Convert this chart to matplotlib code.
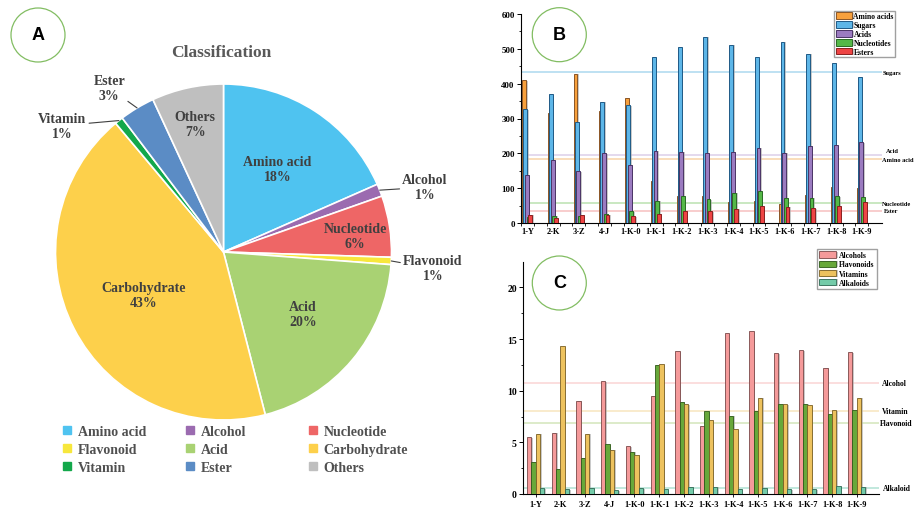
import numpy as np
import matplotlib
matplotlib.use('Agg')
import matplotlib.pyplot as plt
import matplotlib.patheffects as pe
from matplotlib.patches import Ellipse
from matplotlib.lines import Line2D

plt.rcParams['font.family'] = ['Liberation Serif', 'DejaVu Serif']

# panel A
pie_names = ['Amino acid', 'Alcohol', 'Nucleotide', 'Flavonoid', 'Acid',
             'Carbohydrate', 'Vitamin', 'Ester', 'Others']
pie_share = [18.4, 1.2, 5.9, 0.7, 19.8, 42.9, 0.8, 3.4, 6.9]
pie_colors = ['#4fc3f0', '#9b6bb0', '#ee6666', '#f7e73c', '#a9d273',
              '#fdd04b', '#13a84b', '#5b8cc5', '#bfbfbf']

# panel B / C
samples = ['1-Y', '2-K', '3-Z', '4-J', '1-K-0', '1-K-1', '1-K-2', '1-K-3',
           '1-K-4', '1-K-5', '1-K-6', '1-K-7', '1-K-8', '1-K-9']
amino_acids = [410, 316, 428, 322, 360, 120, 77, 77, 60, 62, 55, 80, 102, 100]
sugars = [327, 370, 290, 348, 338, 476, 505, 534, 512, 476, 520, 485, 460, 420]
acids = [138, 180, 148, 200, 167, 208, 205, 200, 205, 216, 202, 222, 223, 232]
nucleotides = [17, 20, 20, 26, 34, 63, 78, 68, 86, 91, 73, 73, 77, 74]
esters = [23, 14, 23, 24, 19, 27, 35, 34, 41, 48, 46, 42, 48, 60]

alcohols = [5.5, 5.9, 9.0, 10.9, 4.6, 9.5, 13.8, 6.55, 15.55, 15.75, 13.6, 13.9, 12.2, 13.7]
flavonoids = [3.1, 2.4, 3.5, 4.8, 4.1, 12.5, 8.9, 8.0, 7.55, 8.05, 8.7, 8.75, 7.7, 8.1]
vitamins = [5.8, 14.3, 5.8, 4.3, 3.8, 12.55, 8.7, 7.15, 6.25, 9.3, 8.7, 8.6, 8.1, 9.3]
alkaloids = [0.55, 0.45, 0.6, 0.35, 0.55, 0.45, 0.72, 0.72, 0.45, 0.55, 0.45, 0.45, 0.75, 0.7]

W, H = 914, 510
fig = plt.figure(figsize=(W / 100, H / 100), dpi=100)


def fx(px):
    return px / W


def fy(py):
    return 1 - py / H


def badge(cx, cy, letter):
    r = 27
    fig.add_artist(Ellipse((fx(cx), fy(cy)), 2 * r / W, 2 * r / H,
                           transform=fig.transFigure, fill=False,
                           ec='#82bd62', lw=0.9))
    fig.text(fx(cx), fy(cy), letter, ha='center', va='center',
             fontsize=13, fontweight='bold', family='Liberation Sans')


shadow = [pe.SimplePatchShadow(offset=(1.1, -0.3), shadow_rgbFace='#a8a8a8', alpha=0.6),
          pe.Normal()]

# ---------------- A: pie
axA = fig.add_axes([fx(53.5), fy(423), 340 / W, 340 / H])
wedges, _ = axA.pie(pie_share, colors=pie_colors, startangle=90, counterclock=False,
                    wedgeprops=dict(edgecolor='white', linewidth=1.2))
axA.set_xlim(-1.012, 1.012)
axA.set_ylim(-1.012, 1.012)

label_r = [0.59, 1.26, 0.79, 1.25, 0.6, 0.54, 1.22, 1.19, 0.78]
label_nudge = [0, -3.8, -1.8, -1.4, 1.8, 0.8, 13.4, 3.9, 0]
lab_font = dict(fontsize=10, fontweight='bold', color='#404040', ha='center', va='center')
for w, name, share, r, nd in zip(wedges, pie_names, pie_share, label_r, label_nudge):
    mid = np.deg2rad((w.theta1 + w.theta2) / 2)
    ang = mid + np.deg2rad(nd)
    txt = f'{name}\n{share:.0f}%'
    pos = (r * np.cos(ang), r * np.sin(ang))
    if r < 1:
        axA.text(*pos, txt, **lab_font)
    else:
        axA.annotate(txt, xy=(np.cos(mid), np.sin(mid)), xytext=pos,
                     arrowprops=dict(arrowstyle='-', color='#404040', lw=0.8,
                                     shrinkA=0, shrinkB=0), **lab_font)

fig.text(fx(221), fy(53), 'Classification', ha='center', va='center',
         fontsize=12.5, fontweight='bold', color='#595959')

handles = [Line2D([], [], ls='none', marker='s', markersize=5.3,
                  markerfacecolor=c, markeredgecolor=c) for c in pie_colors]
for col, xpx in enumerate([63, 186, 309]):
    idx = [col, col + 3, col + 6]
    fig.legend([handles[i] for i in idx], [pie_names[i] for i in idx],
               loc='upper left', bbox_to_anchor=(fx(xpx), fy(426)),
               frameon=False, borderpad=0, borderaxespad=0,
               handlelength=0.55, handletextpad=0.5, labelspacing=0.37,
               prop=dict(size=10, weight='bold'), labelcolor='#505050')

badge(38, 36, 'A')

# ---------------- B
axB = fig.add_axes([fx(521), fy(224), 360.7 / W, 209 / H])
x = np.arange(len(samples))
b_series = [(amino_acids, 'Amino acids', 'Amino acid', '#f7a03c', '#8a5526', '#f8d3a8'),
            (sugars, 'Sugars', 'Sugars', '#5db6e8', '#1f5a86', '#acd8ef'),
            (acids, 'Acids', 'Acid', '#9b7bc0', '#4a3466', '#ddcfea'),
            (nucleotides, 'Nucleotides', 'Nucleotide', '#55b848', '#2a6a24', '#bae2b0'),
            (esters, 'Esters', 'Ester', '#ee4444', '#8a2020', '#f7c0c0')]
b_offsets = [-0.13, -0.085, -0.02, 0.04, 0.11]
b_label_dy = [0, 0, 3, 0, 0]
b_label_dx = [0.3, 1, 4.5, 0.3, 2.5]
for (vals, name, short, fc, ec, lc), dx, ldy, ldx in zip(b_series, b_offsets, b_label_dy, b_label_dx):
    axB.bar(x + dx, vals, width=0.15, color=fc, edgecolor=ec, linewidth=0.7,
            label=name, zorder=3, path_effects=shadow)
    m = np.mean(vals)
    axB.axhline(m, color=lc, lw=1.1, zorder=1)
    axB.annotate(short, xy=(1, m), xycoords=('axes fraction', 'data'),
                 xytext=(ldx * 0.72, ldy), textcoords='offset points',
                 fontsize=4.6, fontweight='bold', va='center', ha='left',
                 annotation_clip=False)

axB.set_xlim(-0.233, 13.77)
axB.set_ylim(0, 600)
axB.set_yticks(np.arange(0, 601, 100))
axB.set_yticks(np.arange(50, 600, 100), minor=True)
axB.set_xticks(x)
axB.set_xticks(np.concatenate([x - 0.25, x + 0.25]), minor=True)
axB.set_xticklabels(samples)
axB.tick_params(axis='x', which='major', length=0, pad=3, labelsize=6)
axB.tick_params(axis='x', which='minor', length=2.5, width=0.6)
axB.tick_params(axis='y', which='major', length=3, width=0.7, labelsize=6.5, pad=1.5)
axB.tick_params(axis='y', which='minor', length=1.5, width=0.6)
for lab in axB.get_xticklabels() + axB.get_yticklabels():
    lab.set_fontweight('bold')
for s in ['top', 'right']:
    axB.spines[s].set_visible(False)
for s in ['left', 'bottom']:
    axB.spines[s].set_linewidth(0.8)

fig.legend(*axB.get_legend_handles_labels(), loc='upper left',
           bbox_to_anchor=(fx(834), fy(11.7)), borderaxespad=0,
           fancybox=False, edgecolor='#a0a0a0', framealpha=1, borderpad=0.2,
           labelspacing=0.12, handlelength=2.2, handleheight=0.9, handletextpad=0.15,
           prop=dict(size=5.5, weight='bold'))

badge(559.3, 35.7, 'B')

# ---------------- C
axC = fig.add_axes([fx(523), fy(495), 356 / W, 232.5 / H])
c_series = [(alcohols, 'Alcohols', 'Alcohol', '#f59a9a', '#7a4848', '#fbd5d5'),
            (flavonoids, 'Flavonoids', 'Flavonoid', '#68a83a', '#2e5a18', '#d3e5ba'),
            (vitamins, 'Vitamins', 'Vitamin', '#edc25e', '#7a6024', '#f8e6bf'),
            (alkaloids, 'Alkaloids', 'Alkaloid', '#74cba9', '#2f6a55', '#b0e1d3')]
c_offsets = [-0.2625, -0.0875, 0.0875, 0.2625]
c_label_dx = [2.7, 1, 2.7, 4]
for (vals, name, short, fc, ec, lc), dx, ldx in zip(c_series, c_offsets, c_label_dx):
    axC.bar(x + dx, vals, width=0.175, color=fc, edgecolor=ec, linewidth=0.6,
            label=name, zorder=3, path_effects=shadow)
    m = np.mean(vals)
    axC.axhline(m, color=lc, lw=1.1, zorder=1)
    axC.annotate(short, xy=(1, m), xycoords=('axes fraction', 'data'),
                 xytext=(ldx * 0.72, 0), textcoords='offset points',
                 fontsize=5.5, fontweight='bold', va='center', ha='left',
                 annotation_clip=False)

axC.set_xlim(-0.514, 13.9)
axC.set_ylim(0, 22.5)
axC.set_yticks(np.arange(0, 21, 5))
axC.set_yticks(np.arange(2.5, 22.5, 5), minor=True)
axC.set_xticks(x)
axC.set_xticklabels(samples)
axC.tick_params(axis='x', which='major', length=2.5, width=0.6, pad=2, labelsize=6)
axC.tick_params(axis='y', which='major', length=3, width=0.7, labelsize=7, pad=1.5)
axC.tick_params(axis='y', which='minor', length=1.5, width=0.6)
for lab in axC.get_xticklabels() + axC.get_yticklabels():
    lab.set_fontweight('bold')
for s in ['top', 'right']:
    axC.spines[s].set_visible(False)
for s in ['left', 'bottom']:
    axC.spines[s].set_linewidth(0.8)

fig.legend(*axC.get_legend_handles_labels(), loc='upper left',
           bbox_to_anchor=(fx(817), fy(250)), borderaxespad=0,
           fancybox=False, edgecolor='#a0a0a0', framealpha=1, borderpad=0.3,
           labelspacing=0.15, handlelength=2.2, handleheight=0.9, handletextpad=0.4,
           prop=dict(size=5.5, weight='bold'))

badge(559.3, 284, 'C')

fig.savefig('out.png', dpi=100)
